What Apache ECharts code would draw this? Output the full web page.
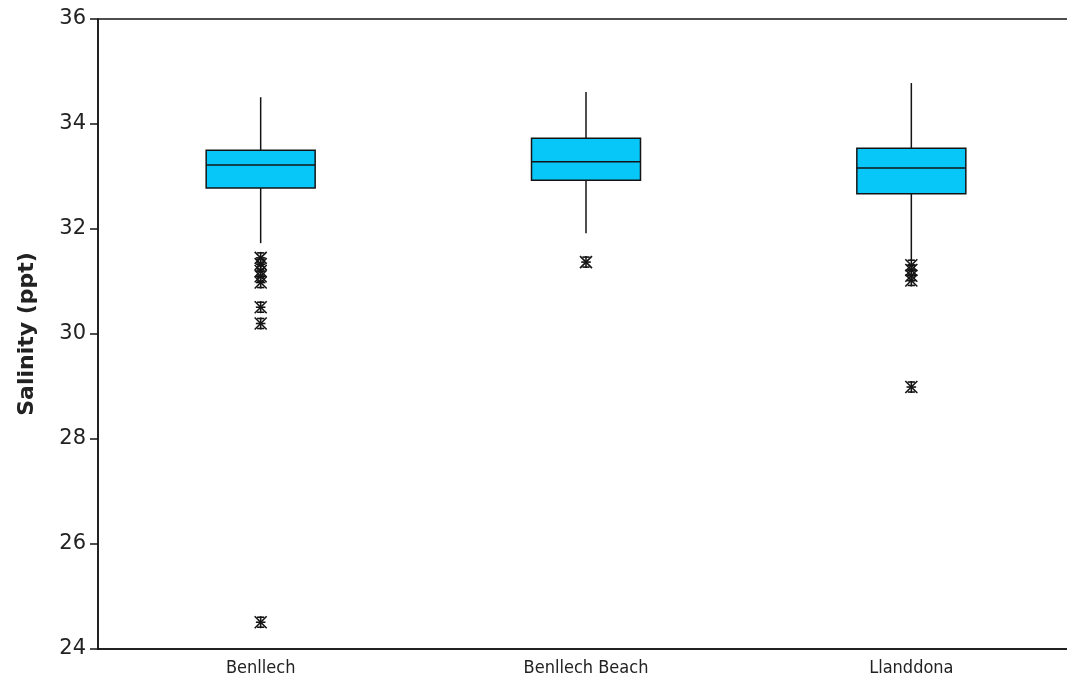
<!DOCTYPE html>
<html>
<head>
<meta charset="utf-8">
<script src="https://cdn.jsdelivr.net/npm/echarts@6/dist/echarts.min.js"></script>
<style>
  html, body { margin: 0; padding: 0; background: #fff; }
  #chart { width: 1067px; height: 690px; }
</style>
</head>
<body>
<div id="chart"></div>
<script>
// Sites along the x axis
const sites = ['Benllech', 'Benllech Beach', 'Llanddona'];

// Five-number summaries per site: [lower whisker, Q1, median, Q3, upper whisker]
const benllechBox = [31.73, 32.78, 33.22, 33.50, 34.51];
const beachBox = [31.92, 32.93, 33.28, 33.73, 34.61];
const llanddonaBox = [31.41, 32.67, 33.16, 33.54, 34.78];

// Outlying readings per site
const benllechOutliers = [31.45, 31.33, 31.20, 31.10, 30.98, 30.51, 30.20, 24.51];
const beachOutliers = [31.37];
const llanddonaOutliers = [31.31, 31.22, 31.11, 31.02, 28.99];

// Y axis range and tick spacing
const yMin = 24, yMax = 36, yStep = 2;

const boxes = [benllechBox, beachBox, llanddonaBox];
const outliers = [benllechOutliers, beachOutliers, llanddonaOutliers];

const boxData = boxes.map((b, i) => [i].concat(b));
const outlierData = [];
outliers.forEach((list, i) => list.forEach(v => outlierData.push([i, v])));

const FONT = 'DejaVu Sans';
const BOX_FILL = '#07C7F9';
const INK = '#141414';

const chart = echarts.init(document.getElementById('chart'), null, { renderer: 'canvas' });

// Asterisk marker: diagonals, vertical stroke, middle bar and short top/bottom bars
function asterisk(cx, cy, r) {
  const s = { stroke: INK, lineWidth: 1.6 };
  const seg = (x1, y1, x2, y2) => ({ type: 'line', shape: { x1: cx + x1, y1: cy + y1, x2: cx + x2, y2: cy + y2 }, style: s });
  return [
    seg(-r, -r, r, r),
    seg(r, -r, -r, r),
    seg(0, -r, 0, r),
    seg(-r * 0.8, 0, r * 0.8, 0),
    seg(-r * 0.6, -r + 1, r * 0.6, -r + 1),
    seg(-r * 0.6, r - 1, r * 0.6, r - 1)
  ];
}

chart.setOption({
  animation: false,
  backgroundColor: '#ffffff',
  grid: {
    left: 98, width: 976, top: 19, bottom: 41,
    outerBoundsMode: 'none',
    show: true, borderColor: INK, borderWidth: 1.5, backgroundColor: 'transparent'
  },
  xAxis: {
    type: 'category',
    data: sites,
    boundaryGap: true,
    axisLine: { lineStyle: { color: INK, width: 1.5 } },
    axisTick: { alignWithLabel: true, length: 5, lineStyle: { color: INK, width: 1.5 } },
    axisLabel: { color: '#222', fontFamily: 'DejaVu Sans Condensed', fontSize: 18, margin: 10 },
    splitLine: { show: false }
  },
  yAxis: {
    type: 'value',
    min: yMin, max: yMax, interval: yStep,
    name: 'Salinity (ppt)',
    nameLocation: 'middle',
    nameGap: 60,
    nameRotate: 90,
    nameTextStyle: { color: '#222', fontFamily: FONT, fontSize: 22, fontWeight: 'bold' },
    axisLine: { show: true, lineStyle: { color: INK, width: 1.5 } },
    axisTick: { show: true, length: 8, lineStyle: { color: INK, width: 1.5 } },
    axisLabel: { color: '#222', fontFamily: FONT, fontSize: 21, margin: 12 },
    splitLine: { show: false }
  },
  series: [
    {
      type: 'custom',
      name: 'box',
      data: boxData,
      encode: { x: 0, y: [1, 2, 3, 4, 5] },
      renderItem: function (params, api) {
        const cat = api.value(0);
        const low = api.coord([cat, api.value(1)]);
        const q1 = api.coord([cat, api.value(2)]);
        const med = api.coord([cat, api.value(3)]);
        const q3 = api.coord([cat, api.value(4)]);
        const high = api.coord([cat, api.value(5)]);
        const band = api.size([1, 0])[0];
        const half = band * 0.335 / 2;
        const x = low[0];
        const lineStyle = { stroke: INK, lineWidth: 1.5 };
        return {
          type: 'group',
          children: [
            { type: 'line', shape: { x1: x, y1: high[1], x2: x, y2: q3[1] }, style: lineStyle },
            { type: 'line', shape: { x1: x, y1: q1[1], x2: x, y2: low[1] }, style: lineStyle },
            {
              type: 'rect',
              shape: { x: x - half, y: q3[1], width: half * 2, height: q1[1] - q3[1] },
              style: { fill: BOX_FILL, stroke: INK, lineWidth: 1.5 }
            },
            { type: 'line', shape: { x1: x - half, y1: med[1], x2: x + half, y2: med[1] }, style: lineStyle }
          ]
        };
      },
      z: 2
    },
    {
      type: 'custom',
      name: 'outliers',
      data: outlierData,
      encode: { x: 0, y: 1 },
      renderItem: function (params, api) {
        const p = api.coord([api.value(0), api.value(1)]);
        return { type: 'group', children: asterisk(p[0], p[1], 6) };
      },
      z: 3
    }
  ]
});
</script>
</body>
</html>
